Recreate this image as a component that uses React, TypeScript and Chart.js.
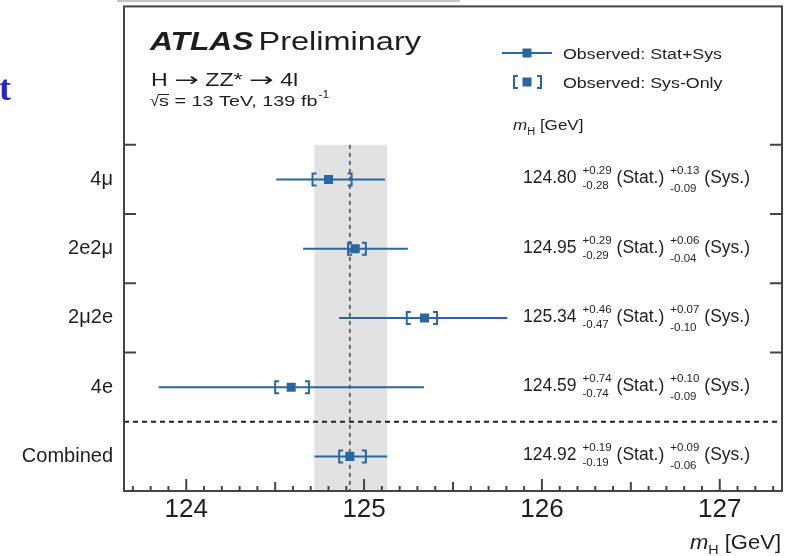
import React, { useEffect, useRef } from "react";
import { Chart, registerables } from "chart.js";

Chart.register(...registerables);

// ---------- data ----------
const categories = ["4μ", "2e2μ", "2μ2e", "4e", "Combined"];
const rowPositions = [5, 4, 3, 2, 1];
const massValues = [124.8, 124.95, 125.34, 124.59, 124.92];
const statUp = [0.29, 0.29, 0.46, 0.74, 0.19];
const statDown = [0.28, 0.29, 0.47, 0.74, 0.19];
const sysUp = [0.13, 0.06, 0.07, 0.1, 0.09];
const sysDown = [0.09, 0.04, 0.1, 0.09, 0.06];
const xTickValues = [124, 125, 126, 127];
const rowBoundaries = [2.5, 3.5, 4.5, 5.5];
const separatorY = 1.5;
const combinedIndex = 4;

const X_MIN = 123.65;
const X_MAX = 127.35;
const Y_MIN = 0.5;
const Y_MAX = 7.5;

// ---------- style ----------
const FONT = '"Liberation Sans", Arial, Helvetica, sans-serif';
const ARROW_FONT = '"DejaVu Sans", sans-serif';
const BLUE = "rgb(40,103,162)";
const TEXT = "#1e1e1e";

type TOpt = { bold?: boolean; italic?: boolean; sx?: number; color?: string; align?: CanvasTextAlign; family?: string };

function fontOf(size: number, opt: TOpt) {
  return `${opt.italic ? "italic " : ""}${opt.bold ? "bold " : ""}${size}px ${opt.family || FONT}`;
}

function drawText(ctx: CanvasRenderingContext2D, s: string, x: number, y: number, size: number, opt: TOpt = {}) {
  ctx.save();
  ctx.font = fontOf(size, opt);
  ctx.fillStyle = opt.color || TEXT;
  ctx.textBaseline = "alphabetic";
  ctx.textAlign = opt.align || "left";
  const sx = opt.sx || 1;
  ctx.translate(x, y);
  ctx.scale(sx, 1);
  ctx.fillText(s, 0, 0);
  const w = ctx.measureText(s).width * sx;
  ctx.restore();
  return w;
}

function measure(ctx: CanvasRenderingContext2D, s: string, size: number, opt: TOpt = {}) {
  ctx.save();
  ctx.font = fontOf(size, opt);
  const w = ctx.measureText(s).width * (opt.sx || 1);
  ctx.restore();
  return w;
}

function drawBracket(ctx: CanvasRenderingContext2D, x: number, y: number, dir: number) {
  const h = 6;
  const s = 4 * dir;
  ctx.beginPath();
  ctx.moveTo(x + s, y - h);
  ctx.lineTo(x, y - h);
  ctx.lineTo(x, y + h);
  ctx.lineTo(x + s, y + h);
  ctx.stroke();
}

const totalUp = (i: number) => Math.sqrt(statUp[i] ** 2 + sysUp[i] ** 2);
const totalDown = (i: number) => Math.sqrt(statDown[i] ** 2 + sysDown[i] ** 2);

const decorPlugin = {
  id: "atlasDecor",
  beforeDatasetsDraw(chart: any) {
    const { ctx, chartArea: a, scales } = chart;
    const xs = scales.x;
    const ys = scales.y;
    ctx.save();
    // combined band
    const cx = massValues[combinedIndex];
    const bL = xs.getPixelForValue(cx - totalDown(combinedIndex));
    const bR = xs.getPixelForValue(cx + totalUp(combinedIndex));
    const bTop = ys.getPixelForValue(rowBoundaries[rowBoundaries.length - 1]);
    ctx.fillStyle = "#e2e2e2";
    ctx.fillRect(bL, bTop, bR - bL, a.bottom - bTop);
    // vertical dashed line
    ctx.strokeStyle = "#666";
    ctx.lineWidth = 2;
    ctx.setLineDash([4, 4]);
    const vx = xs.getPixelForValue(cx);
    ctx.beginPath();
    ctx.moveTo(vx, bTop);
    ctx.lineTo(vx, a.bottom);
    ctx.stroke();
    // horizontal separator
    ctx.strokeStyle = "#222";
    ctx.setLineDash([5, 4]);
    const sy = ys.getPixelForValue(separatorY);
    ctx.beginPath();
    ctx.moveTo(a.left, sy);
    ctx.lineTo(a.right, sy);
    ctx.stroke();
    ctx.setLineDash([]);
    // error bars
    ctx.strokeStyle = BLUE;
    ctx.lineWidth = 2;
    for (let i = 0; i < massValues.length; i++) {
      const y = ys.getPixelForValue(rowPositions[i]);
      const x1 = xs.getPixelForValue(massValues[i] - totalDown(i));
      const x2 = xs.getPixelForValue(massValues[i] + totalUp(i));
      ctx.beginPath();
      ctx.moveTo(x1, y);
      ctx.lineTo(x2, y);
      ctx.stroke();
      const s1 = xs.getPixelForValue(massValues[i] - sysDown[i]);
      const s2 = xs.getPixelForValue(massValues[i] + sysUp[i]);
      drawBracket(ctx, s1, y, 1);
      drawBracket(ctx, s2, y, -1);
    }
    ctx.restore();
  },
  afterDraw(chart: any) {
    const { ctx, chartArea: a, scales } = chart;
    const xs = scales.x;
    const ys = scales.y;
    ctx.save();
    // frame
    ctx.strokeStyle = "#444";
    ctx.lineWidth = 2;
    ctx.strokeRect(a.left, a.top, a.right - a.left, a.bottom - a.top);
    // x ticks (inward)
    ctx.beginPath();
    const i0 = Math.ceil(X_MIN * 10 - 1e-6);
    const i1 = Math.floor(X_MAX * 10 + 1e-6);
    for (let k = i0; k <= i1; k++) {
      const px = xs.getPixelForValue(k / 10);
      const len = k % 10 === 0 ? 12 : k % 5 === 0 ? 9 : 5;
      ctx.moveTo(px, a.bottom);
      ctx.lineTo(px, a.bottom - len);
    }
    // y ticks (inward, both sides)
    for (const b of rowBoundaries) {
      const py = ys.getPixelForValue(b);
      ctx.moveTo(a.left, py);
      ctx.lineTo(a.left + 12, py);
      ctx.moveTo(a.right, py);
      ctx.lineTo(a.right - 12, py);
    }
    ctx.stroke();

    // value labels
    for (let i = 0; i < massValues.length; i++) {
      const y = ys.getPixelForValue(rowPositions[i]);
      let x = 523;
      x += drawText(ctx, massValues[i].toFixed(2), x, y + 4, 17.5);
      x += 6;
      const su = "+" + statUp[i].toFixed(2);
      const sd = "-" + statDown[i].toFixed(2);
      drawText(ctx, su, x, y - 5, 11.5);
      drawText(ctx, sd, x, y + 10, 11.5);
      x += Math.max(measure(ctx, su, 11.5), measure(ctx, sd, 11.5)) + 5;
      x += drawText(ctx, "(Stat.)", x, y + 4, 17.5);
      x += 6;
      const yu = "+" + sysUp[i].toFixed(2);
      const yd = "-" + sysDown[i].toFixed(2);
      drawText(ctx, yu, x, y - 5, 11.5);
      drawText(ctx, yd, x, y + 13, 11.5);
      x += Math.max(measure(ctx, yu, 11.5), measure(ctx, yd, 11.5)) + 5;
      drawText(ctx, "(Sys.)", x, y + 4, 17.5);
    }

    // title block
    let tx = 150;
    tx += drawText(ctx, "ATLAS", tx, 50, 25, { bold: true, italic: true, sx: 1.27 });
    drawText(ctx, "Preliminary", tx + 5, 50, 25, { sx: 1.3 });
    let hx = 151;
    const hs = 19;
    const hsx = 1.22;
    hx += drawText(ctx, "H ", hx, 86, hs, { sx: hsx });
    hx += drawText(ctx, "\u2192", hx, 86, hs, { sx: 1.55, family: ARROW_FONT });
    hx += drawText(ctx, " ZZ* ", hx, 86, hs, { sx: hsx });
    hx += drawText(ctx, "\u2192", hx, 86, hs, { sx: 1.55, family: ARROW_FONT });
    drawText(ctx, " 4l", hx, 86, hs, { sx: hsx });
    let rx = 150;
    const rsx = 1.32;
    const rsz = 15;
    const rw = drawText(ctx, "\u221A", rx, 106, rsz, { sx: 1.1 });
    rx += rw;
    const sw = drawText(ctx, "s", rx, 106, rsz, { sx: rsx });
    ctx.strokeStyle = TEXT;
    ctx.lineWidth = 1;
    ctx.beginPath();
    ctx.moveTo(rx - 1, 94.5);
    ctx.lineTo(rx + sw, 94.5);
    ctx.stroke();
    rx += sw;
    rx += drawText(ctx, " = 13 TeV, 139 fb", rx, 106, rsz, { sx: rsx });
    drawText(ctx, "-1", rx + 1, 98, 10, { sx: 1.2 });

    // legend
    ctx.strokeStyle = BLUE;
    ctx.fillStyle = BLUE;
    ctx.lineWidth = 2;
    ctx.beginPath();
    ctx.moveTo(502, 53);
    ctx.lineTo(552, 53);
    ctx.stroke();
    ctx.fillRect(527 - 4.5, 53 - 4.5, 9, 9);
    drawBracket(ctx, 514, 82, 1);
    drawBracket(ctx, 541, 82, -1);
    ctx.fillStyle = BLUE;
    ctx.fillRect(527 - 4.5, 82 - 4.5, 9, 9);
    drawText(ctx, "Observed: Stat+Sys", 563, 59, 15.5, { sx: 1.15 });
    drawText(ctx, "Observed: Sys-Only", 563, 88, 15.5, { sx: 1.15 });

    // m_H [GeV] header
    let mx = 513;
    mx += drawText(ctx, "m", mx, 130, 15.5, { italic: true, sx: 1.1 });
    mx += drawText(ctx, "H", mx, 135, 10, { sx: 1.1 });
    drawText(ctx, " [GeV]", mx, 130, 15.5, { sx: 1.1 });

    // x axis title
    const tail = " [GeV]";
    const tailW = measure(ctx, tail, 20, { sx: 1.1 });
    const hW = measure(ctx, "H", 13, { sx: 1.1 });
    const mW = measure(ctx, "m", 20, { italic: true, sx: 1.1 });
    let ax = 781 - tailW - hW - mW;
    ax += drawText(ctx, "m", ax, 549, 20, { italic: true, sx: 1.1 });
    ax += drawText(ctx, "H", ax, 554, 13, { sx: 1.1 });
    drawText(ctx, tail, ax, 549, 20, { sx: 1.1 });

    // slide decorations
    drawText(ctx, "t", -1, 100, 36, { bold: true, color: "rgb(36,36,200)", family: '"Liberation Serif", "DejaVu Serif", serif' });
    ctx.strokeStyle = "#c4c4c4";
    ctx.lineWidth = 2;
    ctx.beginPath();
    ctx.moveTo(117, 1);
    ctx.lineTo(460, 1);
    ctx.stroke();
    ctx.restore();
  },
};

export default function App() {
  const ref = useRef<HTMLCanvasElement | null>(null);
  useEffect(() => {
    if (!ref.current) return;
    const chart = new Chart(ref.current, {
      type: "scatter",
      data: {
        datasets: [
          {
            label: "Observed",
            data: massValues.map((m, i) => ({ x: m, y: rowPositions[i] })),
            pointStyle: "rect",
            pointRadius: 6.4,
            pointHoverRadius: 6.4,
            backgroundColor: BLUE,
            borderColor: BLUE,
            borderWidth: 0,
          },
        ],
      },
      options: {
        animation: false,
        responsive: false,
        devicePixelRatio: 1,
        events: [],
        layout: { padding: { top: 6, right: 14, left: 0, bottom: 0 } },
        plugins: { legend: { display: false }, tooltip: { enabled: false }, title: { display: false } },
        scales: {
          x: {
            type: "linear",
            min: X_MIN,
            max: X_MAX,
            grid: { display: false, drawTicks: false },
            border: { display: false },
            afterBuildTicks: (scale: any) => {
              scale.ticks = xTickValues.map((v) => ({ value: v }));
            },
            afterFit: (scale: any) => {
              scale.height = 65;
              scale.paddingLeft = 0;
              scale.paddingRight = 0;
            },
            ticks: {
              padding: 3,
              color: TEXT,
              font: { family: FONT, size: 26 },
              callback: (v: any) => String(v),
            },
          },
          y: {
            type: "linear",
            min: Y_MIN,
            max: Y_MAX,
            grid: { display: false, drawTicks: false },
            border: { display: false },
            afterBuildTicks: (scale: any) => {
              scale.ticks = rowPositions.map((v) => ({ value: v }));
            },
            afterFit: (scale: any) => {
              scale.width = 124;
              scale.paddingTop = 0;
              scale.paddingBottom = 0;
            },
            ticks: {
              padding: 11,
              color: TEXT,
              font: { family: FONT, size: 20 },
              callback: (v: any) => {
                const idx = rowPositions.indexOf(Number(v));
                return idx >= 0 ? categories[idx] : "";
              },
            },
          },
        },
      },
      plugins: [decorPlugin],
    } as any);
    return () => chart.destroy();
  }, []);
  return (
    <div style={{ position: "fixed", left: 0, top: 0, width: 796, height: 556, background: "#fff" }}>
      <canvas ref={ref} width={796} height={556} style={{ display: "block" }} />
    </div>
  );
}
